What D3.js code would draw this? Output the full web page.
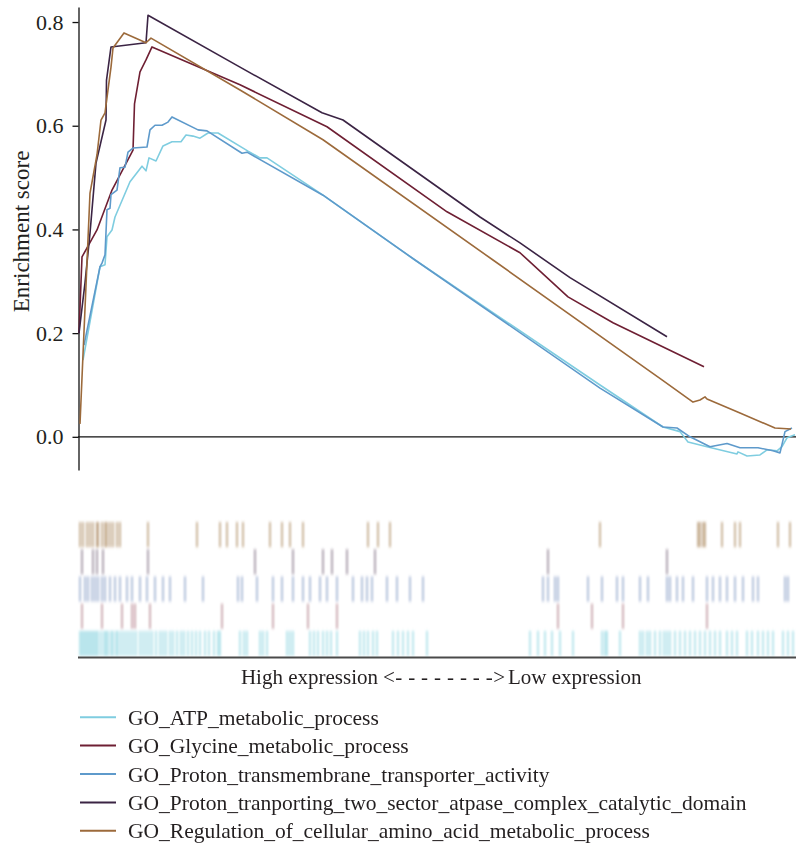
<!DOCTYPE html>
<html>
<head>
<meta charset="utf-8">
<script src="https://cdn.jsdelivr.net/npm/d3@7/dist/d3.min.js"></script>
<style>
  html, body { margin: 0; padding: 0; background: #ffffff; }
  svg { display: block; }
  text { font-family: "Liberation Serif", "DejaVu Serif", serif; fill: #231f20; }
</style>
</head>
<body>
<div id="chart"></div>
<script>
// ---------------- DATA ----------------
// Gene-set names (legend order)
const setNames = [
  "GO_ATP_metabolic_process",
  "GO_Glycine_metabolic_process",
  "GO_Proton_transmembrane_transporter_activity",
  "GO_Proton_tranporting_two_sector_atpase_complex_catalytic_domain",
  "GO_Regulation_of_cellular_amino_acid_metabolic_process"
];
const setColors = ["#7fcde0", "#6e1f33", "#5e9acb", "#3b2444", "#9c6a3b"];
const barColors = ["#7ed0dc", "#a86b78", "#7590bf", "#6a5570", "#a07a4a"];

// Running enrichment score curves: rank positions and scores
const atpRank  = [4,21,26,28,33,36,51,63,67,70,77,84,93,102,107,114,121,129,139,169,181,188,244,336,521,584,601,609,628,658,659,668,681,688,698,703,708,716];
const atpScore = [0.148,0.328,0.332,0.386,0.399,0.424,0.492,0.522,0.513,0.538,0.532,0.561,0.569,0.569,0.582,0.580,0.576,0.586,0.586,0.551,0.538,0.538,0.466,0.341,0.100,0.019,0.010,-0.010,-0.019,-0.033,-0.029,-0.037,-0.035,-0.025,-0.027,-0.019,-0.002,0.004];

const glyRank  = [0,3,18,33,54,55.5,61,67,73,161,248,368,441,489,534,625];
const glyScore = [0.200,0.347,0.399,0.476,0.553,0.642,0.704,0.727,0.752,0.679,0.598,0.434,0.355,0.270,0.220,0.135];

const ptaRank  = [5,21,23,26,28,31,32,38,41,46,49,54,68,71,76,83,89,93,119,128,163,168,244,336,521,584,598,611,631,648,661,679,694,701,706,713];
const ptaScore = [0.177,0.328,0.335,0.351,0.438,0.441,0.467,0.476,0.519,0.520,0.549,0.557,0.559,0.592,0.601,0.601,0.607,0.617,0.592,0.590,0.547,0.549,0.466,0.341,0.094,0.019,0.017,0.000,-0.019,-0.013,-0.021,-0.021,-0.027,-0.031,0.010,0.017];

const ptdRank  = [0,6,11,17,27,27.5,32,67,69,161,243,264,401,441,491,588];
const ptdScore = [0.200,0.297,0.393,0.528,0.611,0.688,0.752,0.760,0.813,0.713,0.625,0.611,0.424,0.374,0.307,0.193];

const regRank  = [1,11,18,22,26,29,32,34,45,67,72,161,244,414,583,614,621,626,628,661,696,712];
const regScore = [0.025,0.470,0.544,0.611,0.625,0.669,0.713,0.750,0.779,0.760,0.769,0.669,0.573,0.341,0.110,0.067,0.071,0.077,0.073,0.046,0.017,0.015];

// Hit positions (barcode) per gene set
const atpHits = [1,3,5,7,9,11,13,15,17,19,22,25,27,29,32,34,37,39,42,45,48,51,54,57,61,64,67,70,73,77,81,84,87,91,94,98,102,105,109,113,117,121,126,130,135,139,141,161,165,168,181,184,188,208,211,214,231,235,239,244,248,252,258,281,285,289,294,298,314,319,324,329,334,348,451,459,466,473,481,494,523,526,528,541,561,564,568,571,576,581,585,588,591,596,601,606,611,616,621,626,631,636,641,648,653,658,668,673,679,684,689,694,704,709,714];
const glyHits = [3,23,43,53,56,71,143,194,229,258,479,513,544,628];
const ptaHits = [1,6,9,13,16,19,23,26,31,36,41,48,53,61,68,76,84,91,106,124,159,163,178,194,203,214,224,231,241,248,258,274,283,288,293,308,318,331,344,464,469,476,479,509,523,538,544,561,569,588,591,598,604,614,628,634,641,648,656,664,674,679,706,709];
const ptdHits = [3,14,18,24,69,176,214,244,253,268,296,469,588];
const regHits = [1,4,8,11,14,18,19,23,26,28,31,34,38,41,69,118,141,148,158,164,191,203,211,224,289,299,311,521,619,621,624,626,643,656,661,699,711];

const yTicks = [0.0, 0.2, 0.4, 0.6, 0.8];
const yLabel = "Enrichment score";
const xLabelLeft = "High expression";
const xLabelArrow = "<- - - - - - - ->";
const xLabelRight = "Low expression";

// ---------------- BUILD ----------------
const curves = [
  {name: setNames[0], rank: atpRank, score: atpScore, hits: atpHits, color: setColors[0], bar: barColors[0]},
  {name: setNames[1], rank: glyRank, score: glyScore, hits: glyHits, color: setColors[1], bar: barColors[1]},
  {name: setNames[2], rank: ptaRank, score: ptaScore, hits: ptaHits, color: setColors[2], bar: barColors[2]},
  {name: setNames[3], rank: ptdRank, score: ptdScore, hits: ptdHits, color: setColors[3], bar: barColors[3]},
  {name: setNames[4], rank: regRank, score: regScore, hits: regHits, color: setColors[4], bar: barColors[4]}
];

const W = 796, H = 847;
const svg = d3.select("#chart").append("svg").attr("width", W).attr("height", H);

const defs = svg.append("defs");
defs.append("filter").attr("id", "soft")
  .attr("x", "-20%").attr("y", "-20%").attr("width", "140%").attr("height", "140%")
  .append("feGaussianBlur").attr("stdDeviation", "1.0 1.6");

const x = d3.scaleLinear().domain([0, 717]).range([79, 796]);
const y = d3.scaleLinear().domain([-0.064, 0.829]).range([470, 7]);

// zero line
svg.append("line")
  .attr("x1", x(0) - 1).attr("x2", x(717))
  .attr("y1", y(0)).attr("y2", y(0))
  .attr("stroke", "#111").attr("stroke-width", 1.3);

// y axis
const yAxis = d3.axisLeft(y).tickValues(yTicks).tickFormat(d3.format(".1f"))
  .tickSize(6).tickSizeOuter(0).tickPadding(9);
const gy = svg.append("g").attr("transform", `translate(${x(0) - 0.5},0)`).call(yAxis);
gy.select(".domain").attr("stroke", "#111").attr("stroke-width", 1.3);
gy.selectAll(".tick line").attr("stroke", "#111").attr("stroke-width", 1.3);
gy.selectAll(".tick text")
  .style("font-family", "'Liberation Serif', serif")
  .style("font-size", "22px").attr("fill", "#231f20");

svg.append("text")
  .attr("transform", `translate(29,${(y(0) + y(0.8)) / 2 + 2}) rotate(-90)`)
  .attr("text-anchor", "middle")
  .style("font-size", "23px")
  .text(yLabel);

// curves
const line = d3.line().x(d => x(d[0])).y(d => y(d[1]));
curves.forEach(c => {
  const pts = c.rank.map((r, i) => [r, c.score[i]]);
  svg.append("path").datum(pts)
    .attr("d", line)
    .attr("fill", "none")
    .attr("stroke", c.color)
    .attr("stroke-width", 1.6)
    .attr("stroke-linejoin", "round");
});

// barcode rows (reverse of legend order, top to bottom)
const rowOrder = curves.slice().reverse().map(c => c.name);
const band = d3.scaleBand().domain(rowOrder).range([521, 657]).paddingInner(0);
const gb = svg.append("g").attr("filter", "url(#soft)");
curves.forEach(c => {
  gb.selectAll(null).data(c.hits).enter().append("rect")
    .attr("x", d => x(d) - 0.9)
    .attr("width", 1.8)
    .attr("y", band(c.name) + 1)
    .attr("height", band.bandwidth() - 2)
    .attr("fill", c.bar)
    .attr("opacity", 0.6);
});
svg.append("line")
  .attr("x1", x(0) - 1).attr("x2", x(717))
  .attr("y1", 657.5).attr("y2", 657.5)
  .attr("stroke", "#4a4a4a").attr("stroke-width", 2);

// x label
const gx = svg.append("g").style("font-size", "21px");
gx.append("text").attr("x", 378).attr("y", 677).attr("dy", "0.35em")
  .attr("text-anchor", "end").text(xLabelLeft);
gx.append("text").attr("x", 383).attr("y", 677).attr("dy", "0.33em")
  .attr("textLength", 122).attr("lengthAdjust", "spacing")
  .text(xLabelArrow);
gx.append("text").attr("x", 508).attr("y", 677).attr("dy", "0.35em")
  .attr("text-anchor", "start").text(xLabelRight);

// legend
const leg = d3.scaleBand().domain(setNames).range([703, 845]);
const gl = svg.append("g");
curves.forEach(c => {
  const cy = leg(c.name) + leg.bandwidth() / 2;
  gl.append("line").attr("x1", 80).attr("x2", 116).attr("y1", cy).attr("y2", cy)
    .attr("stroke", c.color).attr("stroke-width", 2);
  gl.append("text").attr("x", 128).attr("y", cy).attr("dy", "0.35em")
    .style("font-size", "21.5px").text(c.name);
});
</script>
</body>
</html>
